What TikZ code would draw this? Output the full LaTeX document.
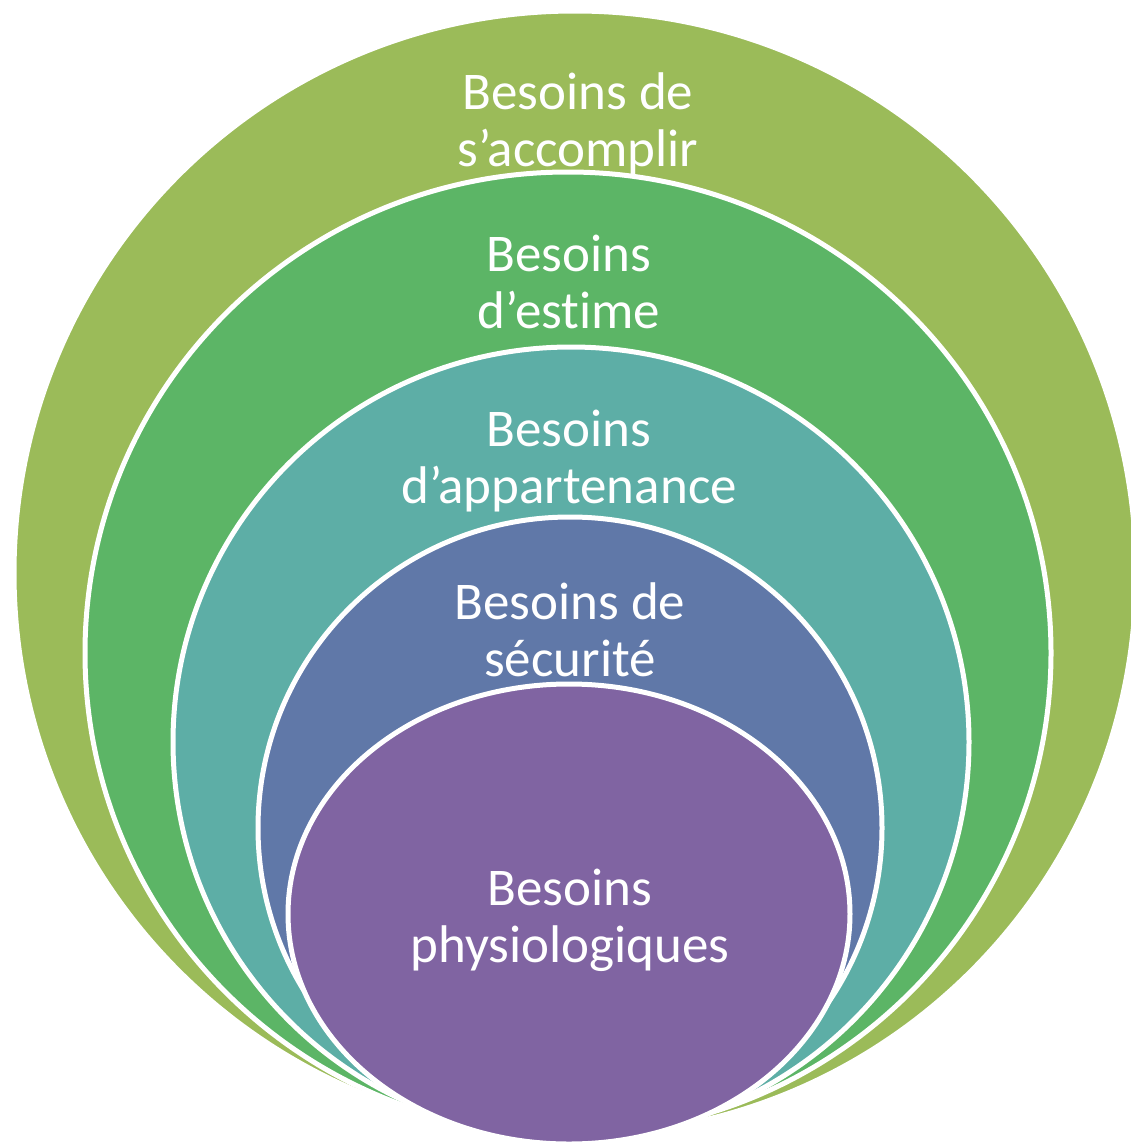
\documentclass[tikz,border=0pt]{standalone}
\usepackage{fontspec}
\setmainfont[Ligatures={NoCommon,NoRare}]{Carlito}
\usetikzlibrary{shapes.geometric}
\definecolor{mylime}{RGB}{155,187,89}
\definecolor{mygreen}{RGB}{92,181,102}
\definecolor{myteal}{RGB}{93,174,166}
\definecolor{myblue}{RGB}{96,120,168}
\definecolor{mypurple}{RGB}{128,100,162}

\begin{document}
\begin{tikzpicture}[x=1pt,y=-1pt,
		  every node/.style={ellipse,draw=white,line width=5pt,inner sep=0pt},
		  lbl/.style={draw=none,rectangle,text=white,align=center,
		    font=\fontsize{53}{57}\selectfont}
		]
			\useasboundingbox (0,0) rectangle (1131,1143);

			% the rings, outer first
			\node[fill=mylime,minimum width=1122pt,minimum height=1124pt] (accomp) at (575,573) {};
			\node[fill=mygreen,minimum width=966pt,minimum height=962pt] (estime) at (568,653) {};
			\node[fill=myteal,minimum width=796pt,minimum height=790pt] (appart) at (571,742) {};
			\node[fill=myblue,minimum width=624pt,minimum height=622pt] (secu) at (570,828) {};
			\node[fill=mypurple,minimum width=562pt,minimum height=460pt] (physio) at (569,914) {};

			% the labels (base = last line)
			\node[lbl,anchor=base] (accomp-t) at (578,166) {Besoins de\\s’accomplir};
			\node[lbl,anchor=base] (estime-t) at (569,328) {Besoins\\d’estime};
			\node[lbl,anchor=base] (appart-t) at (569,503) {Besoins\\d’appartenance};
			\node[lbl,anchor=base] (secu-t) at (570,676) {Besoins de\\sécurité};
			\node[lbl,anchor=base] (physio-t) at (570,962) {Besoins\\physiologiques};

		\end{tikzpicture}
\end{document}
